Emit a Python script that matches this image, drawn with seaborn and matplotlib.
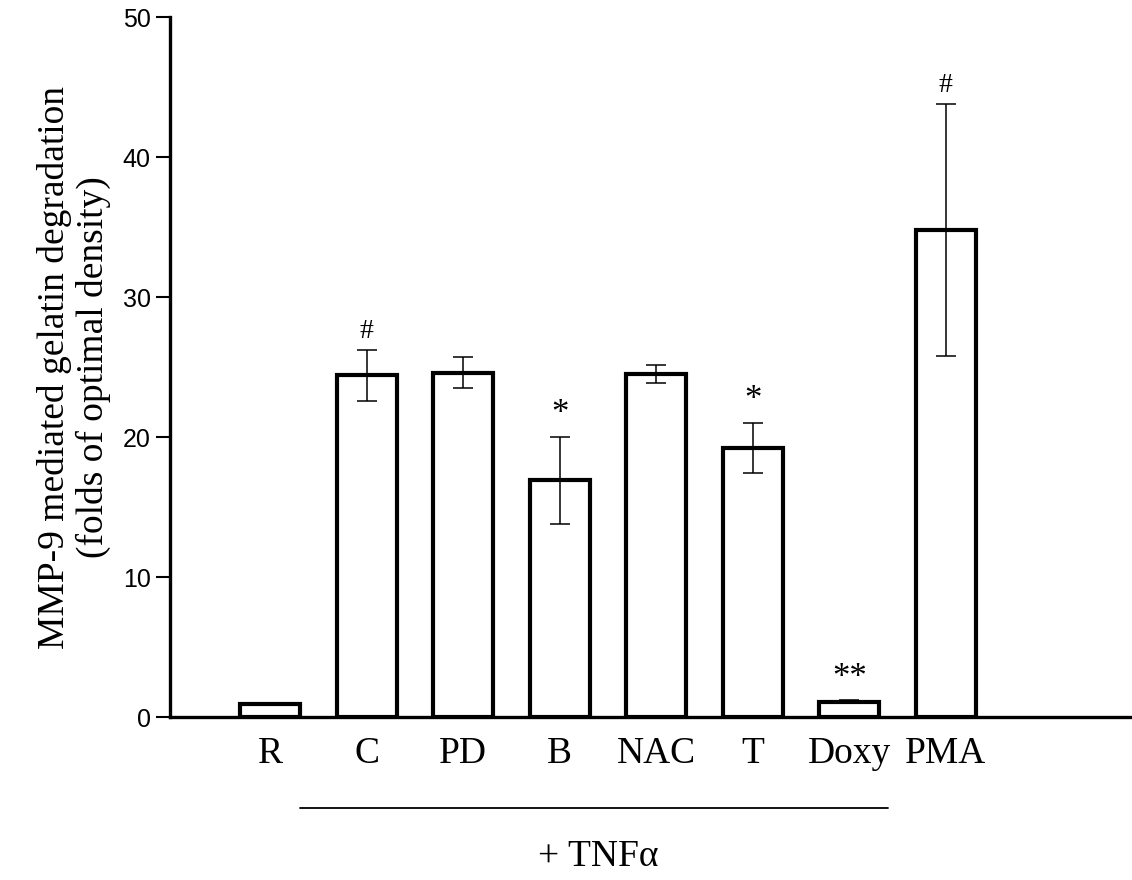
import matplotlib
matplotlib.use("Agg")
import matplotlib.pyplot as plt
import matplotlib.transforms as mtransforms
import seaborn as sns
import pandas as pd

# values
groups = ["R", "C", "PD", "B", "NAC", "T", "Doxy", "PMA"]
means = [0.9, 24.4, 24.6, 16.9, 24.5, 19.2, 1.1, 34.8]
errs = [0.0, 1.8, 1.1, 3.1, 0.65, 1.8, 0.1, 9.0]
marks = ["", "#", "", "*", "", "*", "**", "#"]
yticks = [0, 10, 20, 30, 40, 50]

df = pd.DataFrame({"group": groups, "value": means})

sns.set_style("ticks")
plt.rcParams["font.family"] = ["Liberation Sans", "DejaVu Sans"]
for k in ["text.color", "axes.labelcolor", "xtick.color", "ytick.color",
          "axes.edgecolor"]:
    plt.rcParams[k] = "black"
serif = ["Liberation Serif", "DejaVu Serif"]

fig = plt.figure(figsize=(11.32, 8.8), dpi=100)
ax = fig.add_axes([170 / 1132, 1 - 717 / 880, 960 / 1132, 700 / 880])

sns.barplot(data=df, x="group", y="value", order=groups, ax=ax,
            color="white", edgecolor="black", linewidth=3, width=0.62,
            errorbar=None)

pos = list(range(len(groups)))
ax.errorbar(pos, means, yerr=errs, fmt="none", ecolor="black",
            elinewidth=1.1, capsize=7, capthick=1.1)

for x, m, e, s in zip(pos, means, errs, marks):
    if s == "#":
        ax.text(x, m + e + 0.45, s, ha="center", va="bottom",
                fontsize=20, family=serif)
    elif s:
        ax.text(x, m + e + 0.4, s, ha="center", va="bottom",
                fontsize=25, family=serif)

ax.set_ylim(0, 50)
ax.set_xlim(-1.04, 8.91)
ax.set_yticks(yticks)
ax.set_xlabel("")
ax.set_ylabel("MMP-9 mediated gelatin degradation\n(folds of optimal density)",
              fontsize=27, family=serif, linespacing=1.15)
ax.yaxis.set_label_coords(-0.061, 0.5)

ax.tick_params(axis="y", labelsize=18, length=10, width=1.5, pad=4)
ax.tick_params(axis="x", length=0, pad=14)
for lab in ax.get_xticklabels():
    lab.set_fontsize(27)
    lab.set_family(serif)

sns.despine(ax=ax)
ax.spines["left"].set_linewidth(2.4)
ax.spines["bottom"].set_linewidth(2.4)

# bracket for the TNF-alpha treated groups
trans = mtransforms.blended_transform_factory(ax.transData, ax.transAxes)
ax.plot([0.31, 6.4], [-0.13, -0.13], color="black", lw=1.3,
        transform=trans, clip_on=False)
ax.text(3.4, -0.2, "+ TNF\u03b1", transform=trans, ha="center", va="center",
        fontsize=27, family=serif)

fig.savefig("out.png", dpi=100)
